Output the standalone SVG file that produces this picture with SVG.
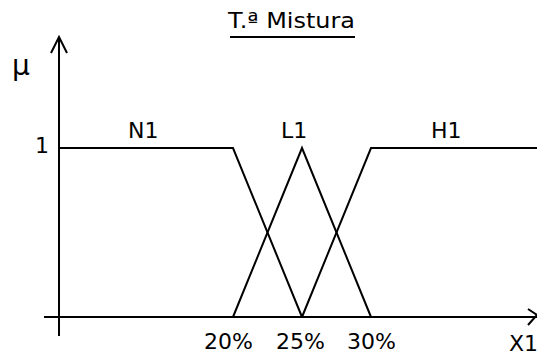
<svg xmlns="http://www.w3.org/2000/svg" width="537" height="354" viewBox="0 0 537 354">
<style>
.t{font-family:"DejaVu Sans",Verdana,sans-serif;font-size:22px;fill:#000}
.ln{stroke:#000;stroke-width:2;fill:none}
</style>
<rect width="537" height="354" fill="#fff"/>
<g id="axes">
<line class="ln" x1="59" y1="37" x2="59" y2="336"/>
<polyline class="ln" points="51,53 59,37 67,53"/>
<line class="ln" x1="44" y1="317" x2="537" y2="317"/>
<polyline class="ln" points="528,309 537,315 528,325"/>
</g>
<g id="title">
<text class="t" x="228" y="28" font-size="22" textLength="127" lengthAdjust="spacingAndGlyphs">T.ª Mistura</text>
<line class="ln" x1="230" y1="37" x2="355" y2="37"/>
</g>
<g id="labels">
<text class="t" x="12" y="75" style="font-size:28px">μ</text>
<text class="t" x="35" y="153">1</text>
<text class="t" x="128" y="138">N1</text>
<text class="t" x="281" y="138">L1</text>
<text class="t" x="431" y="138">H1</text>
<text class="t" x="204" y="349">20%</text>
<text class="t" x="276" y="349">25%</text>
<text class="t" x="347" y="349">30%</text>
<text class="t" x="509" y="351">X1</text>
</g>
<g id="connectors">
<polyline class="ln" points="59,148 233,148 302,317"/>
<polyline class="ln" points="233,317 302,148 371,317"/>
<polyline class="ln" points="302,317 371,148 537,148"/>
</g>
</svg>
